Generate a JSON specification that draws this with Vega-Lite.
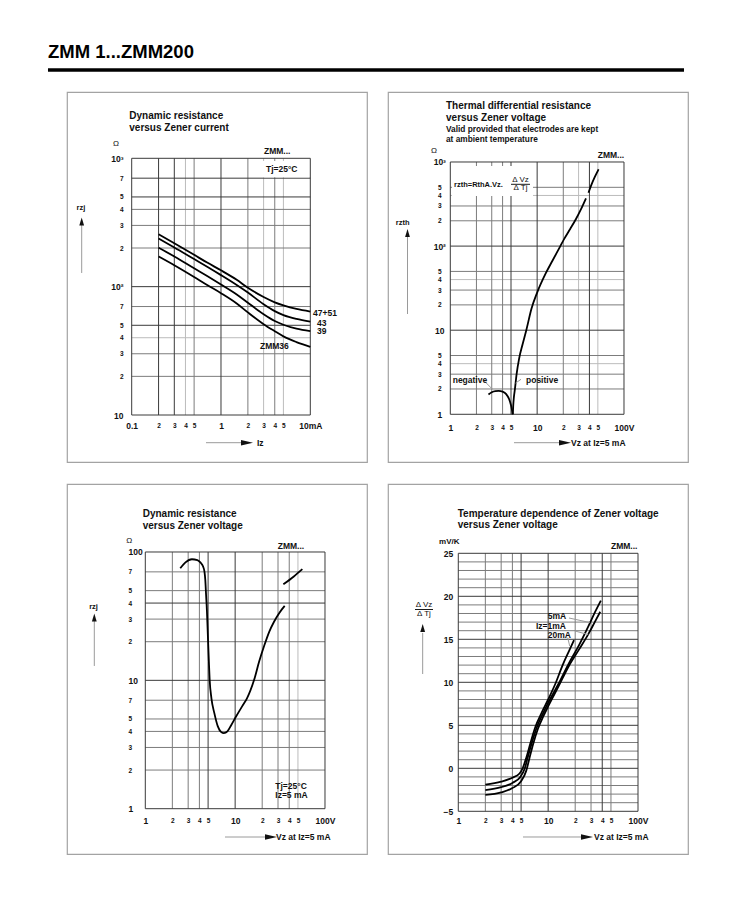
{
  "$schema": "https://vega.github.io/schema/vega-lite/v6.json",
  "background": "white",
  "padding": 0,
  "autosize": {"type": "pad"},
  "config": {
    "font": "Liberation Sans",
    "view": {"stroke": "#a3a3a3", "strokeWidth": 1.2},
    "axis": {"grid": false, "domain": false, "ticks": false, "tickSize": 0, "labelFont": "Liberation Sans", "labelFontWeight": "bold", "labelColor": "#111111", "labelOverlap": false, "labelFlush": false, "labelBound": false, "title": null},
    "text": {"font": "Liberation Sans", "color": "#111111"}
  },
  "columns": 2,
  "spacing": {"row": 22, "column": 21},
  "bounds": "flush",
  "datasets": {
    "page": [{"x": 0.0034393, "x2": 861000, "y": 0.0014421, "y2": 16811}],
    "bar": [{"x": 0.011552, "x2": 153000, "y": 4875, "y2": 4875}],
    "g1": [
      {"x": 0.4, "x2": 0.4, "y": 10, "y2": 1000, "k": "l"},
      {"x": 3, "x2": 3, "y": 10, "y2": 1000, "k": "l"},
      {"x": 5, "x2": 5, "y": 10, "y2": 1000, "k": "l"},
      {"x": 0.1, "x2": 10, "y": 40, "y2": 40, "k": "l"},
      {"x": 0.5, "x2": 0.5, "y": 10, "y2": 1000, "k": "n"},
      {"x": 2, "x2": 2, "y": 10, "y2": 1000, "k": "n"},
      {"x": 4, "x2": 4, "y": 10, "y2": 1000, "k": "n"},
      {"x": 0.1, "x2": 10, "y": 400, "y2": 400, "k": "n"},
      {"x": 0.1, "x2": 10, "y": 300, "y2": 300, "k": "n"},
      {"x": 0.1, "x2": 10, "y": 200, "y2": 200, "k": "n"},
      {"x": 0.1, "x2": 10, "y": 70, "y2": 70, "k": "n"},
      {"x": 0.1, "x2": 10, "y": 30, "y2": 30, "k": "n"},
      {"x": 0.1, "x2": 10, "y": 20, "y2": 20, "k": "n"},
      {"x": 0.1, "x2": 0.1, "y": 10, "y2": 1000, "k": "m"},
      {"x": 0.2, "x2": 0.2, "y": 10, "y2": 1000, "k": "m"},
      {"x": 0.3, "x2": 0.3, "y": 10, "y2": 1000, "k": "m"},
      {"x": 1, "x2": 1, "y": 10, "y2": 1000, "k": "m"},
      {"x": 10, "x2": 10, "y": 10, "y2": 1000, "k": "m"},
      {"x": 0.1, "x2": 10, "y": 1000, "y2": 1000, "k": "m"},
      {"x": 0.1, "x2": 10, "y": 700, "y2": 700, "k": "m"},
      {"x": 0.1, "x2": 10, "y": 500, "y2": 500, "k": "m"},
      {"x": 0.1, "x2": 10, "y": 100, "y2": 100, "k": "m"},
      {"x": 0.1, "x2": 10, "y": 50, "y2": 50, "k": "m"},
      {"x": 0.1, "x2": 10, "y": 10, "y2": 10, "k": "m"}
    ],
    "w1": [{"x": 2.953, "x2": 9.67, "y": 712, "y2": 952.7}],
    "c1": [
      {"s": "a", "x": 0.2, "y": 256}, {"s": "a", "x": 0.3, "y": 218}, {"s": "a", "x": 0.5, "y": 177}, {"s": "a", "x": 0.7, "y": 154}, {"s": "a", "x": 1, "y": 134}, {"s": "a", "x": 1.5, "y": 113}, {"s": "a", "x": 2, "y": 98}, {"s": "a", "x": 3, "y": 83}, {"s": "a", "x": 4, "y": 75.5}, {"s": "a", "x": 5, "y": 71.5}, {"s": "a", "x": 7, "y": 67}, {"s": "a", "x": 10, "y": 64},
      {"s": "b", "x": 0.2, "y": 237}, {"s": "b", "x": 0.3, "y": 202}, {"s": "b", "x": 0.5, "y": 164}, {"s": "b", "x": 0.7, "y": 143}, {"s": "b", "x": 1, "y": 123}, {"s": "b", "x": 1.5, "y": 103}, {"s": "b", "x": 2, "y": 90}, {"s": "b", "x": 3, "y": 73}, {"s": "b", "x": 4, "y": 64.5}, {"s": "b", "x": 5, "y": 60}, {"s": "b", "x": 7, "y": 56}, {"s": "b", "x": 10, "y": 53.4},
      {"s": "c", "x": 0.2, "y": 201}, {"s": "c", "x": 0.3, "y": 172}, {"s": "c", "x": 0.5, "y": 139}, {"s": "c", "x": 0.7, "y": 121}, {"s": "c", "x": 1, "y": 104}, {"s": "c", "x": 1.5, "y": 87}, {"s": "c", "x": 2, "y": 75}, {"s": "c", "x": 3, "y": 61}, {"s": "c", "x": 4, "y": 54}, {"s": "c", "x": 5, "y": 50.5}, {"s": "c", "x": 7, "y": 47}, {"s": "c", "x": 10, "y": 45},
      {"s": "d", "x": 0.2, "y": 172}, {"s": "d", "x": 0.3, "y": 147}, {"s": "d", "x": 0.5, "y": 119}, {"s": "d", "x": 0.7, "y": 103}, {"s": "d", "x": 1, "y": 89}, {"s": "d", "x": 1.5, "y": 74}, {"s": "d", "x": 2, "y": 63}, {"s": "d", "x": 3, "y": 51}, {"s": "d", "x": 4, "y": 45}, {"s": "d", "x": 5, "y": 41}, {"s": "d", "x": 7, "y": 37}, {"s": "d", "x": 10, "y": 34}
    ],
    "d1": [
      {"x": 0.02755, "x2": 0.02755, "y": 302.2, "y2": 127.8, "k": "a"},
      {"x": 0.6793, "x2": 1.6748, "y": 6.084, "y2": 6.084, "k": "a"}
    ],
    "a1": [{"x": 0.02755, "y": 321.8, "dir": "up"}, {"x": 1.955, "y": 6.084, "dir": "right"}],
    "t1": [
      {"x": 0.011552, "y": 6078, "t": "ZMM 1...ZMM200", "r": "P"},
      {"x": 0.094, "y": 2013, "t": "Dynamic resistance", "r": "T"},
      {"x": 0.094, "y": 1623, "t": "versus Zener current", "r": "T"},
      {"x": 0.0667, "y": 1292, "t": "Ω", "r": "C"},
      {"x": 0.02706, "y": 412.2, "t": "rzj", "r": "B"},
      {"x": 3.03, "y": 1080, "t": "ZMM...", "r": "L"},
      {"x": 3.19, "y": 782, "t": "Tj=25°C", "r": "L"},
      {"x": 10.72, "y": 59.5, "t": "47+51", "r": "L"},
      {"x": 11.88, "y": 49.8, "t": "43", "r": "L"},
      {"x": 11.88, "y": 42.8, "t": "39", "r": "L"},
      {"x": 2.733, "y": 32.7, "t": "ZMM36", "r": "L"},
      {"x": 2.53, "y": 6.084, "t": "Iz", "r": "M"}
    ],
    "g2": [
      {"x": 30, "x2": 30, "y": 1, "y2": 1000, "k": "l"},
      {"x": 50, "x2": 50, "y": 1, "y2": 1000, "k": "l"},
      {"x": 1, "x2": 100, "y": 400, "y2": 400, "k": "l"},
      {"x": 1, "x2": 100, "y": 40, "y2": 40, "k": "l"},
      {"x": 1, "x2": 100, "y": 4, "y2": 4, "k": "l"},
      {"x": 2, "x2": 2, "y": 1, "y2": 1000, "k": "n"},
      {"x": 3, "x2": 3, "y": 1, "y2": 1000, "k": "n"},
      {"x": 4, "x2": 4, "y": 1, "y2": 1000, "k": "n"},
      {"x": 20, "x2": 20, "y": 1, "y2": 1000, "k": "n"},
      {"x": 1, "x2": 100, "y": 500, "y2": 500, "k": "n"},
      {"x": 1, "x2": 100, "y": 300, "y2": 300, "k": "n"},
      {"x": 1, "x2": 100, "y": 200, "y2": 200, "k": "n"},
      {"x": 1, "x2": 100, "y": 50, "y2": 50, "k": "n"},
      {"x": 1, "x2": 100, "y": 30, "y2": 30, "k": "n"},
      {"x": 1, "x2": 100, "y": 20, "y2": 20, "k": "n"},
      {"x": 1, "x2": 100, "y": 5, "y2": 5, "k": "n"},
      {"x": 1, "x2": 100, "y": 3, "y2": 3, "k": "n"},
      {"x": 1, "x2": 100, "y": 2, "y2": 2, "k": "n"},
      {"x": 1, "x2": 1, "y": 1, "y2": 1000, "k": "m"},
      {"x": 5, "x2": 5, "y": 1, "y2": 1000, "k": "m"},
      {"x": 10, "x2": 10, "y": 1, "y2": 1000, "k": "m"},
      {"x": 40, "x2": 40, "y": 1, "y2": 1000, "k": "m"},
      {"x": 100, "x2": 100, "y": 1, "y2": 1000, "k": "m"},
      {"x": 1, "x2": 100, "y": 1000, "y2": 1000, "k": "m"},
      {"x": 1, "x2": 100, "y": 100, "y2": 100, "k": "m"},
      {"x": 1, "x2": 100, "y": 10, "y2": 10, "k": "m"},
      {"x": 1, "x2": 100, "y": 1, "y2": 1, "k": "m"}
    ],
    "w2": [{"x": 1.046, "x2": 8.957, "y": 394.2, "y2": 896.6}],
    "c2": [
      {"s": "neg", "x": 2.75, "y": 1.72}, {"s": "neg", "x": 3.0, "y": 1.83}, {"s": "neg", "x": 3.3, "y": 1.89}, {"s": "neg", "x": 3.6, "y": 1.9}, {"s": "neg", "x": 4.0, "y": 1.86}, {"s": "neg", "x": 4.4, "y": 1.74}, {"s": "neg", "x": 4.75, "y": 1.52}, {"s": "neg", "x": 5.0, "y": 1.28}, {"s": "neg", "x": 5.15, "y": 1.1}, {"s": "neg", "x": 5.22, "y": 1.0},
      {"s": "pos", "x": 5.25, "y": 1.0}, {"s": "pos", "x": 5.3, "y": 1.25}, {"s": "pos", "x": 5.4, "y": 1.6}, {"s": "pos", "x": 5.55, "y": 2.0}, {"s": "pos", "x": 5.8, "y": 3.0}, {"s": "pos", "x": 6.2, "y": 4.6}, {"s": "pos", "x": 6.8, "y": 6.8}, {"s": "pos", "x": 7.5, "y": 10}, {"s": "pos", "x": 8.6, "y": 18}, {"s": "pos", "x": 10, "y": 28}, {"s": "pos", "x": 12.5, "y": 47}, {"s": "pos", "x": 15, "y": 67}, {"s": "pos", "x": 18.5, "y": 100}, {"s": "pos", "x": 20.5, "y": 122}, {"s": "pos", "x": 24, "y": 160}, {"s": "pos", "x": 28, "y": 210}, {"s": "pos", "x": 32, "y": 275}, {"s": "pos", "x": 36.5, "y": 370},
      {"s": "pos2", "x": 39, "y": 430}, {"s": "pos2", "x": 42, "y": 530}, {"s": "pos2", "x": 46, "y": 660}, {"s": "pos2", "x": 51, "y": 820}
    ],
    "d2": [
      {"x": 0.3215, "x2": 0.3215, "y": 128.3, "y2": 15.58, "k": "a"},
      {"x": 5.413, "x2": 17.85, "y": 0.4596, "y2": 0.4596, "k": "a"},
      {"x": 5.0, "x2": 8.272, "y": 543, "y2": 543, "k": "b"},
      {"x": 2.463, "x2": 3.05, "y": 2.489, "y2": 1.99, "k": "a"},
      {"x": 6.518, "x2": 5.65, "y": 2.608, "y2": 2.35, "k": "a"}
    ],
    "a2": [{"x": 0.3215, "y": 143.1, "dir": "up"}, {"x": 20.93, "y": 0.4596, "dir": "right"}],
    "t2": [
      {"x": 0.8923, "y": 4267, "t": "Thermal differential resistance", "r": "T"},
      {"x": 0.8923, "y": 3073, "t": "versus Zener voltage", "r": "T"},
      {"x": 0.8923, "y": 2274, "t": "Valid provided that electrodes are kept", "r": "S"},
      {"x": 0.8923, "y": 1706, "t": "at ambient temperature", "r": "S"},
      {"x": 0.6492, "y": 1351, "t": "Ω", "r": "C"},
      {"x": 0.283, "y": 189.8, "t": "rzth", "r": "B"},
      {"x": 49.8, "y": 1116, "t": "ZMM...", "r": "L"},
      {"x": 1.103, "y": 504.3, "t": "rzth=RthA.Vz.", "r": "F"},
      {"x": 6.433, "y": 606, "t": "Δ Vz", "r": "C"},
      {"x": 6.433, "y": 494.9, "t": "Δ Tj", "r": "C"},
      {"x": 1.0657, "y": 2.357, "t": "negative", "r": "L"},
      {"x": 7.441, "y": 2.357, "t": "positive", "r": "L"},
      {"x": 24.53, "y": 0.4596, "t": "Vz at Iz=5 mA", "r": "M"}
    ],
    "g3": [
      {"x": 50, "x2": 50, "y": 1, "y2": 100, "k": "l"},
      {"x": 2, "x2": 2, "y": 1, "y2": 100, "k": "n"},
      {"x": 3, "x2": 3, "y": 1, "y2": 100, "k": "n"},
      {"x": 4, "x2": 4, "y": 1, "y2": 100, "k": "n"},
      {"x": 20, "x2": 20, "y": 1, "y2": 100, "k": "n"},
      {"x": 30, "x2": 30, "y": 1, "y2": 100, "k": "n"},
      {"x": 40, "x2": 40, "y": 1, "y2": 100, "k": "n"},
      {"x": 1, "x2": 100, "y": 70, "y2": 70, "k": "n"},
      {"x": 1, "x2": 100, "y": 50, "y2": 50, "k": "n"},
      {"x": 1, "x2": 100, "y": 30, "y2": 30, "k": "n"},
      {"x": 1, "x2": 100, "y": 20, "y2": 20, "k": "n"},
      {"x": 1, "x2": 100, "y": 7, "y2": 7, "k": "n"},
      {"x": 1, "x2": 100, "y": 5, "y2": 5, "k": "n"},
      {"x": 1, "x2": 100, "y": 4, "y2": 4, "k": "n"},
      {"x": 1, "x2": 100, "y": 3, "y2": 3, "k": "n"},
      {"x": 1, "x2": 100, "y": 2, "y2": 2, "k": "n"},
      {"x": 1, "x2": 1, "y": 1, "y2": 100, "k": "m"},
      {"x": 5, "x2": 5, "y": 1, "y2": 100, "k": "m"},
      {"x": 10, "x2": 10, "y": 1, "y2": 100, "k": "m"},
      {"x": 100, "x2": 100, "y": 1, "y2": 100, "k": "m"},
      {"x": 1, "x2": 100, "y": 100, "y2": 100, "k": "m"},
      {"x": 1, "x2": 100, "y": 40, "y2": 40, "k": "m"},
      {"x": 1, "x2": 100, "y": 10, "y2": 10, "k": "m"},
      {"x": 1, "x2": 100, "y": 1, "y2": 1, "k": "m"}
    ],
    "c3": [
      {"s": "a", "x": 2.45, "y": 74.6}, {"s": "a", "x": 2.8, "y": 83}, {"s": "a", "x": 3.3, "y": 87.8}, {"s": "a", "x": 3.8, "y": 86.5}, {"s": "a", "x": 4.1, "y": 83}, {"s": "a", "x": 4.4, "y": 77}, {"s": "a", "x": 4.56, "y": 70}, {"s": "a", "x": 4.65, "y": 61}, {"s": "a", "x": 4.75, "y": 46}, {"s": "a", "x": 4.85, "y": 35}, {"s": "a", "x": 4.93, "y": 26}, {"s": "a", "x": 5.0, "y": 20}, {"s": "a", "x": 5.1, "y": 14}, {"s": "a", "x": 5.2, "y": 10.2}, {"s": "a", "x": 5.45, "y": 7.2}, {"s": "a", "x": 5.85, "y": 5.6}, {"s": "a", "x": 6.4, "y": 4.4}, {"s": "a", "x": 7.0, "y": 3.95}, {"s": "a", "x": 7.5, "y": 3.88}, {"s": "a", "x": 8.2, "y": 4.0}, {"s": "a", "x": 9.0, "y": 4.45}, {"s": "a", "x": 10.2, "y": 5.2}, {"s": "a", "x": 12, "y": 6.3}, {"s": "a", "x": 13.5, "y": 7.2}, {"s": "a", "x": 16.2, "y": 10}, {"s": "a", "x": 18.5, "y": 14}, {"s": "a", "x": 21, "y": 18.5}, {"s": "a", "x": 24, "y": 24}, {"s": "a", "x": 27, "y": 28.5}, {"s": "a", "x": 31, "y": 33.5}, {"s": "a", "x": 35.6, "y": 38},
      {"s": "b", "x": 34.4, "y": 56}, {"s": "b", "x": 45, "y": 64.5}, {"s": "b", "x": 56, "y": 73.5}
    ],
    "d3": [
      {"x": 0.2707, "x2": 0.2707, "y": 29.0, "y2": 12.94, "k": "a"},
      {"x": 7.709, "x2": 22.05, "y": 0.6018, "y2": 0.6018, "k": "a"}
    ],
    "a3": [{"x": 0.2707, "y": 30.88, "dir": "up"}, {"x": 25.06, "y": 0.6018, "dir": "right"}],
    "t3": [
      {"x": 0.9356, "y": 185.7, "t": "Dynamic resistance", "r": "T"},
      {"x": 0.9356, "y": 152.4, "t": "versus Zener voltage", "r": "T"},
      {"x": 0.6636, "y": 121.8, "t": "Ω", "r": "C"},
      {"x": 0.2652, "y": 37.27, "t": "rzj", "r": "B"},
      {"x": 29.76, "y": 105.5, "t": "ZMM...", "r": "L"},
      {"x": 27.98, "y": 1.4238, "t": "Tj=25°C", "r": "L"},
      {"x": 27.98, "y": 1.2117, "t": "Iz=5 mA", "r": "L"},
      {"x": 28.49, "y": 0.6018, "t": "Vz at Iz=5 mA", "r": "M"}
    ],
    "g4": [
      {"x": 2, "x2": 2, "y": -5, "y2": 25, "k": "n"},
      {"x": 3, "x2": 3, "y": -5, "y2": 25, "k": "n"},
      {"x": 4, "x2": 4, "y": -5, "y2": 25, "k": "n"},
      {"x": 20, "x2": 20, "y": -5, "y2": 25, "k": "n"},
      {"x": 30, "x2": 30, "y": -5, "y2": 25, "k": "n"},
      {"x": 50, "x2": 50, "y": -5, "y2": 25, "k": "n"},
      {"x": 1, "x2": 100, "y": -4, "y2": -4, "k": "n"},
      {"x": 1, "x2": 100, "y": -3, "y2": -3, "k": "n"},
      {"x": 1, "x2": 100, "y": -2, "y2": -2, "k": "n"},
      {"x": 1, "x2": 100, "y": -1, "y2": -1, "k": "n"},
      {"x": 1, "x2": 100, "y": 1, "y2": 1, "k": "n"},
      {"x": 1, "x2": 100, "y": 2, "y2": 2, "k": "n"},
      {"x": 1, "x2": 100, "y": 3, "y2": 3, "k": "n"},
      {"x": 1, "x2": 100, "y": 4, "y2": 4, "k": "n"},
      {"x": 1, "x2": 100, "y": 6, "y2": 6, "k": "n"},
      {"x": 1, "x2": 100, "y": 7, "y2": 7, "k": "n"},
      {"x": 1, "x2": 100, "y": 8, "y2": 8, "k": "n"},
      {"x": 1, "x2": 100, "y": 9, "y2": 9, "k": "n"},
      {"x": 1, "x2": 100, "y": 11, "y2": 11, "k": "n"},
      {"x": 1, "x2": 100, "y": 12, "y2": 12, "k": "n"},
      {"x": 1, "x2": 100, "y": 13, "y2": 13, "k": "n"},
      {"x": 1, "x2": 100, "y": 14, "y2": 14, "k": "n"},
      {"x": 1, "x2": 100, "y": 16, "y2": 16, "k": "n"},
      {"x": 1, "x2": 100, "y": 17, "y2": 17, "k": "n"},
      {"x": 1, "x2": 100, "y": 18, "y2": 18, "k": "n"},
      {"x": 1, "x2": 100, "y": 19, "y2": 19, "k": "n"},
      {"x": 1, "x2": 100, "y": 21, "y2": 21, "k": "n"},
      {"x": 1, "x2": 100, "y": 22, "y2": 22, "k": "n"},
      {"x": 1, "x2": 100, "y": 23, "y2": 23, "k": "n"},
      {"x": 1, "x2": 100, "y": 24, "y2": 24, "k": "n"},
      {"x": 1, "x2": 1, "y": -5, "y2": 25, "k": "m"},
      {"x": 5, "x2": 5, "y": -5, "y2": 25, "k": "m"},
      {"x": 10, "x2": 10, "y": -5, "y2": 25, "k": "m"},
      {"x": 40, "x2": 40, "y": -5, "y2": 25, "k": "m"},
      {"x": 100, "x2": 100, "y": -5, "y2": 25, "k": "m"},
      {"x": 1, "x2": 100, "y": -5, "y2": -5, "k": "m"},
      {"x": 1, "x2": 100, "y": 0, "y2": 0, "k": "m"},
      {"x": 1, "x2": 100, "y": 5, "y2": 5, "k": "m"},
      {"x": 1, "x2": 100, "y": 10, "y2": 10, "k": "m"},
      {"x": 1, "x2": 100, "y": 15, "y2": 15, "k": "m"},
      {"x": 1, "x2": 100, "y": 20, "y2": 20, "k": "m"},
      {"x": 1, "x2": 100, "y": 25, "y2": 25, "k": "m"}
    ],
    "c4": [
      {"s": "20mA", "x": 2, "y": -1.9}, {"s": "20mA", "x": 3, "y": -1.55}, {"s": "20mA", "x": 4, "y": -1.1}, {"s": "20mA", "x": 4.8, "y": -0.6}, {"s": "20mA", "x": 5.2, "y": 0}, {"s": "20mA", "x": 5.7, "y": 1.2}, {"s": "20mA", "x": 6.3, "y": 2.8}, {"s": "20mA", "x": 7.2, "y": 4.8}, {"s": "20mA", "x": 8.5, "y": 6.5}, {"s": "20mA", "x": 10, "y": 8.0}, {"s": "20mA", "x": 12, "y": 9.8}, {"s": "20mA", "x": 14.5, "y": 12.0}, {"s": "20mA", "x": 17, "y": 13.6}, {"s": "20mA", "x": 19.4, "y": 14.9},
      {"s": "5mA", "x": 2, "y": -2.55}, {"s": "5mA", "x": 3, "y": -2.2}, {"s": "5mA", "x": 4, "y": -1.7}, {"s": "5mA", "x": 4.9, "y": -1.0}, {"s": "5mA", "x": 5.5, "y": 0}, {"s": "5mA", "x": 6, "y": 1.5}, {"s": "5mA", "x": 6.6, "y": 3.0}, {"s": "5mA", "x": 7.5, "y": 4.8}, {"s": "5mA", "x": 8.7, "y": 6.3}, {"s": "5mA", "x": 10, "y": 7.6}, {"s": "5mA", "x": 13, "y": 9.8}, {"s": "5mA", "x": 17, "y": 12.2}, {"s": "5mA", "x": 22, "y": 14.3}, {"s": "5mA", "x": 28, "y": 16.5}, {"s": "5mA", "x": 33, "y": 18.1}, {"s": "5mA", "x": 38.6, "y": 19.5},
      {"s": "1mA", "x": 2, "y": -3.1}, {"s": "1mA", "x": 3, "y": -2.8}, {"s": "1mA", "x": 4, "y": -2.3}, {"s": "1mA", "x": 5, "y": -1.5}, {"s": "1mA", "x": 5.7, "y": -0.3}, {"s": "1mA", "x": 6.2, "y": 1.2}, {"s": "1mA", "x": 6.8, "y": 2.8}, {"s": "1mA", "x": 7.7, "y": 4.6}, {"s": "1mA", "x": 8.8, "y": 6.0}, {"s": "1mA", "x": 10, "y": 7.2}, {"s": "1mA", "x": 13, "y": 9.5}, {"s": "1mA", "x": 17, "y": 11.9}, {"s": "1mA", "x": 22, "y": 13.8}, {"s": "1mA", "x": 28, "y": 15.6}, {"s": "1mA", "x": 33, "y": 17.0}, {"s": "1mA", "x": 38, "y": 18.2}
    ],
    "d4": [
      {"x": 0.3297, "x2": 0.5231, "y": 18.465, "y2": 18.465, "k": "b"},
      {"x": 0.4015, "x2": 0.4015, "y": 15.733, "y2": 10.965, "k": "a"},
      {"x": 5.249, "x2": 23.21, "y": -7.988, "y2": -7.988, "k": "a"},
      {"x": 17.06, "x2": 29, "y": 17.477, "y2": 16.95, "k": "a"},
      {"x": 19.9, "x2": 27.98, "y": 15.965, "y2": 15.55, "k": "a"},
      {"x": 16.51, "x2": 17.4, "y": 15.186, "y2": 14.2, "k": "a"}
    ],
    "a4": [{"x": 0.4015, "y": 16.314, "dir": "up"}, {"x": 27.06, "y": -7.988, "dir": "right"}],
    "t4": [
      {"x": 0.9848, "y": 29.163, "t": "Temperature dependence of Zener voltage", "r": "T"},
      {"x": 0.9848, "y": 27.884, "t": "versus Zener voltage", "r": "T"},
      {"x": 0.7943, "y": 26.349, "t": "mV/K", "r": "B"},
      {"x": 50.06, "y": 25.5, "t": "ZMM...", "r": "L"},
      {"x": 0.4151, "y": 18.988, "t": "Δ Vz", "r": "C"},
      {"x": 0.4151, "y": 17.942, "t": "Δ Tj", "r": "C"},
      {"x": 9.885, "y": 17.36, "t": "5mA", "r": "L"},
      {"x": 7.324, "y": 16.198, "t": "Iz=1mA", "r": "L"},
      {"x": 9.885, "y": 15.116, "t": "20mA", "r": "L"},
      {"x": 32.38, "y": -7.988, "t": "Vz at Iz=5 mA", "r": "M"}
    ]
  },
  "concat": [
    {
      "width": 300, "height": 370,
      "encoding": {
        "x": {"field": "x", "type": "quantitative", "scale": {"type": "log", "domain": [0.018862, 43.146], "nice": false},
          "axis": {"orient": "bottom", "offset": -47, "values": [0.1, 0.2, 0.3, 0.4, 0.5, 1, 2, 3, 4, 5, 10], "labelExpr": "datum.value == 10 ? '10mA' : datum.value == 0.1 ? '0.1' : datum.value == 1 ? '1' : datum.value < 1 ? format(datum.value * 10, 'd') : format(datum.value, 'd')", "labelPadding": 10, "labelBaseline": "middle", "labelFontSize": {"condition": {"test": "datum.value == 0.1 || datum.value == 1 || datum.value == 10", "value": 8.5}, "value": 6.5}}},
        "y": {"field": "y", "type": "quantitative", "scale": {"type": "log", "domain": [4.3034, 3285.3], "nice": false},
          "axis": {"orient": "left", "offset": -64.7, "values": [10, 20, 30, 40, 50, 70, 100, 200, 300, 400, 500, 700, 1000], "labelExpr": "datum.value == 1000 ? '10³' : datum.value == 100 ? '10²' : datum.value == 10 ? '10' : datum.value > 100 ? format(datum.value / 100, 'd') : format(datum.value / 10, 'd')", "labelPadding": 8.7, "labelAlign": "right", "labelBaseline": "middle", "labelFontSize": {"condition": {"test": "datum.value == 10 || datum.value == 100 || datum.value == 1000", "value": 8.5}, "value": 6.5}}}
      },
      "layer": [
        {"data": {"name": "page"}, "mark": {"type": "rect", "fill": "transparent"}, "encoding": {"x2": {"field": "x2"}, "y2": {"field": "y2"}}},
        {"data": {"name": "g1"}, "mark": {"type": "rule", "strokeWidth": 1}, "encoding": {"x2": {"field": "x2"}, "y2": {"field": "y2"}, "color": {"field": "k", "type": "nominal", "scale": {"domain": ["m", "n", "l", "a", "b"], "range": ["#3a3a3a", "#7c7c7c", "#bcbcbc", "#9a9a9a", "#1a1a1a"]}, "legend": null}}},
        {"data": {"name": "w1"}, "mark": {"type": "rect", "fill": "white"}, "encoding": {"x2": {"field": "x2"}, "y2": {"field": "y2"}}},
        {"data": {"name": "c1"}, "mark": {"type": "line", "color": "#000000", "strokeWidth": 1.8, "interpolate": "monotone"}, "encoding": {"detail": {"field": "s", "type": "nominal"}}},
        {"data": {"name": "d1"}, "mark": {"type": "rule", "strokeWidth": 1}, "encoding": {"x2": {"field": "x2"}, "y2": {"field": "y2"}, "color": {"field": "k", "type": "nominal", "scale": {"domain": ["m", "n", "l", "a", "b"], "range": ["#3a3a3a", "#7c7c7c", "#bcbcbc", "#9a9a9a", "#1a1a1a"]}, "legend": null}}},
        {"data": {"name": "bar"}, "mark": {"type": "rule", "strokeWidth": 3.4, "color": "#000000"}, "encoding": {"x2": {"field": "x2"}, "y2": {"field": "y2"}}},
        {"data": {"name": "a1"}, "transform": [{"filter": "datum.dir == 'up'"}], "mark": {"type": "point", "shape": "M-0.6,1L0,-1L0.6,1Z", "size": 64, "filled": true, "color": "#111111", "opacity": 1}},
        {"data": {"name": "a1"}, "transform": [{"filter": "datum.dir == 'right'"}], "mark": {"type": "point", "shape": "M-1,-0.45L1,0L-1,0.45Z", "size": 144, "filled": true, "color": "#111111", "opacity": 1}},
        {"data": {"name": "t1"}, "transform": [{"filter": "datum.r == 'P'"}], "mark": {"type": "text", "align": "left", "baseline": "alphabetic", "fontSize": 18.5, "fontWeight": "bold", "color": "#000000"}, "encoding": {"text": {"field": "t", "type": "nominal"}}},
        {"data": {"name": "t1"}, "transform": [{"filter": "datum.r == 'T'"}], "mark": {"type": "text", "align": "left", "baseline": "alphabetic", "fontSize": 10, "fontWeight": "bold"}, "encoding": {"text": {"field": "t", "type": "nominal"}}},
        {"data": {"name": "t1"}, "transform": [{"filter": "datum.r == 'L'"}], "mark": {"type": "text", "align": "left", "baseline": "alphabetic", "fontSize": 8.5, "fontWeight": "bold"}, "encoding": {"text": {"field": "t", "type": "nominal"}}},
        {"data": {"name": "t1"}, "transform": [{"filter": "datum.r == 'C'"}], "mark": {"type": "text", "align": "center", "baseline": "middle", "fontSize": 8}, "encoding": {"text": {"field": "t", "type": "nominal"}}},
        {"data": {"name": "t1"}, "transform": [{"filter": "datum.r == 'B'"}], "mark": {"type": "text", "align": "center", "baseline": "middle", "fontSize": 7.5, "fontWeight": "bold"}, "encoding": {"text": {"field": "t", "type": "nominal"}}},
        {"data": {"name": "t1"}, "transform": [{"filter": "datum.r == 'M'"}], "mark": {"type": "text", "align": "left", "baseline": "middle", "fontSize": 8.5, "fontWeight": "bold"}, "encoding": {"text": {"field": "t", "type": "nominal"}}}
      ]
    },
    {
      "width": 300, "height": 370,
      "encoding": {
        "x": {"field": "x", "type": "quantitative", "scale": {"type": "log", "domain": [0.1917, 545.8], "nice": false},
          "axis": {"orient": "bottom", "offset": -47.7, "values": [1, 2, 3, 4, 5, 10, 20, 30, 40, 50, 100], "labelExpr": "datum.value == 100 ? '100V' : datum.value == 10 ? '10' : datum.value == 1 ? '1' : datum.value > 10 ? format(datum.value / 10, 'd') : format(datum.value, 'd')", "labelPadding": 13, "labelBaseline": "middle", "labelFontSize": {"condition": {"test": "datum.value == 1 || datum.value == 10 || datum.value == 100", "value": 8.5}, "value": 6.5}}},
        "y": {"field": "y", "type": "quantitative", "scale": {"type": "log", "domain": [0.27087, 6797.5], "nice": false},
          "axis": {"orient": "left", "offset": -62.3, "values": [1, 2, 3, 4, 5, 10, 20, 30, 40, 50, 100, 200, 300, 400, 500, 1000], "labelExpr": "datum.value == 1000 ? '10³' : datum.value == 100 ? '10²' : datum.value == 10 ? '10' : datum.value == 1 ? '1' : datum.value > 100 ? format(datum.value / 100, 'd') : datum.value > 10 ? format(datum.value / 10, 'd') : format(datum.value, 'd')", "labelPadding": 11, "labelAlign": "center", "labelBaseline": "middle", "labelFontSize": {"condition": {"test": "datum.value == 1 || datum.value == 10 || datum.value == 100 || datum.value == 1000", "value": 8.5}, "value": 6.5}}}
      },
      "layer": [
        {"data": {"name": "g2"}, "mark": {"type": "rule", "strokeWidth": 1}, "encoding": {"x2": {"field": "x2"}, "y2": {"field": "y2"}, "color": {"field": "k", "type": "nominal", "scale": {"domain": ["m", "n", "l", "a", "b"], "range": ["#3a3a3a", "#7c7c7c", "#bcbcbc", "#9a9a9a", "#1a1a1a"]}, "legend": null}}},
        {"data": {"name": "w2"}, "mark": {"type": "rect", "fill": "white"}, "encoding": {"x2": {"field": "x2"}, "y2": {"field": "y2"}}},
        {"data": {"name": "c2"}, "mark": {"type": "line", "color": "#000000", "strokeWidth": 1.8, "interpolate": "monotone"}, "encoding": {"detail": {"field": "s", "type": "nominal"}}},
        {"data": {"name": "d2"}, "mark": {"type": "rule", "strokeWidth": 1}, "encoding": {"x2": {"field": "x2"}, "y2": {"field": "y2"}, "color": {"field": "k", "type": "nominal", "scale": {"domain": ["m", "n", "l", "a", "b"], "range": ["#3a3a3a", "#7c7c7c", "#bcbcbc", "#9a9a9a", "#1a1a1a"]}, "legend": null}}},
        {"data": {"name": "a2"}, "transform": [{"filter": "datum.dir == 'up'"}], "mark": {"type": "point", "shape": "M-0.6,1L0,-1L0.6,1Z", "size": 64, "filled": true, "color": "#111111", "opacity": 1}},
        {"data": {"name": "a2"}, "transform": [{"filter": "datum.dir == 'right'"}], "mark": {"type": "point", "shape": "M-1,-0.45L1,0L-1,0.45Z", "size": 144, "filled": true, "color": "#111111", "opacity": 1}},
        {"data": {"name": "t2"}, "transform": [{"filter": "datum.r == 'T'"}], "mark": {"type": "text", "align": "left", "baseline": "alphabetic", "fontSize": 10, "fontWeight": "bold"}, "encoding": {"text": {"field": "t", "type": "nominal"}}},
        {"data": {"name": "t2"}, "transform": [{"filter": "datum.r == 'S'"}], "mark": {"type": "text", "align": "left", "baseline": "alphabetic", "fontSize": 8.3, "fontWeight": "bold"}, "encoding": {"text": {"field": "t", "type": "nominal"}}},
        {"data": {"name": "t2"}, "transform": [{"filter": "datum.r == 'L'"}], "mark": {"type": "text", "align": "left", "baseline": "alphabetic", "fontSize": 8.5, "fontWeight": "bold"}, "encoding": {"text": {"field": "t", "type": "nominal"}}},
        {"data": {"name": "t2"}, "transform": [{"filter": "datum.r == 'F'"}], "mark": {"type": "text", "align": "left", "baseline": "alphabetic", "fontSize": 7.5, "fontWeight": "bold"}, "encoding": {"text": {"field": "t", "type": "nominal"}}},
        {"data": {"name": "t2"}, "transform": [{"filter": "datum.r == 'C'"}], "mark": {"type": "text", "align": "center", "baseline": "middle", "fontSize": 8}, "encoding": {"text": {"field": "t", "type": "nominal"}}},
        {"data": {"name": "t2"}, "transform": [{"filter": "datum.r == 'B'"}], "mark": {"type": "text", "align": "center", "baseline": "middle", "fontSize": 7.5, "fontWeight": "bold"}, "encoding": {"text": {"field": "t", "type": "nominal"}}},
        {"data": {"name": "t2"}, "transform": [{"filter": "datum.r == 'M'"}], "mark": {"type": "text", "align": "left", "baseline": "middle", "fontSize": 8.5, "fontWeight": "bold"}, "encoding": {"text": {"field": "t", "type": "nominal"}}}
      ]
    },
    {
      "width": 300, "height": 370,
      "encoding": {
        "x": {"field": "x", "type": "quantitative", "scale": {"type": "log", "domain": [0.13444, 293.46], "nice": false},
          "axis": {"orient": "bottom", "offset": -45.3, "values": [1, 2, 3, 4, 5, 10, 20, 30, 40, 50, 100], "labelExpr": "datum.value == 100 ? '100V' : datum.value == 10 ? '10' : datum.value == 1 ? '1' : datum.value > 10 ? format(datum.value / 10, 'd') : format(datum.value, 'd')", "labelPadding": 12, "labelBaseline": "middle", "labelFontSize": {"condition": {"test": "datum.value == 1 || datum.value == 10 || datum.value == 100", "value": 8.5}, "value": 6.5}}},
        "y": {"field": "y", "type": "quantitative", "scale": {"type": "log", "domain": [0.44366, 338.6], "nice": false},
          "axis": {"orient": "left", "offset": -78.3, "values": [1, 2, 3, 4, 5, 7, 10, 20, 30, 40, 50, 70, 100], "labelExpr": "datum.value == 100 ? '100' : datum.value == 10 ? '10' : datum.value == 1 ? '1' : datum.value > 10 ? format(datum.value / 10, 'd') : format(datum.value, 'd')", "labelPadding": 17.3, "labelAlign": "left", "labelBaseline": "middle", "labelFontSize": {"condition": {"test": "datum.value == 1 || datum.value == 10 || datum.value == 100", "value": 8.5}, "value": 6.5}}}
      },
      "layer": [
        {"data": {"name": "g3"}, "mark": {"type": "rule", "strokeWidth": 1}, "encoding": {"x2": {"field": "x2"}, "y2": {"field": "y2"}, "color": {"field": "k", "type": "nominal", "scale": {"domain": ["m", "n", "l", "a", "b"], "range": ["#3a3a3a", "#7c7c7c", "#bcbcbc", "#9a9a9a", "#1a1a1a"]}, "legend": null}}},
        {"data": {"name": "c3"}, "mark": {"type": "line", "color": "#000000", "strokeWidth": 1.8, "interpolate": "monotone"}, "encoding": {"detail": {"field": "s", "type": "nominal"}}},
        {"data": {"name": "d3"}, "mark": {"type": "rule", "strokeWidth": 1}, "encoding": {"x2": {"field": "x2"}, "y2": {"field": "y2"}, "color": {"field": "k", "type": "nominal", "scale": {"domain": ["m", "n", "l", "a", "b"], "range": ["#3a3a3a", "#7c7c7c", "#bcbcbc", "#9a9a9a", "#1a1a1a"]}, "legend": null}}},
        {"data": {"name": "a3"}, "transform": [{"filter": "datum.dir == 'up'"}], "mark": {"type": "point", "shape": "M-0.6,1L0,-1L0.6,1Z", "size": 64, "filled": true, "color": "#111111", "opacity": 1}},
        {"data": {"name": "a3"}, "transform": [{"filter": "datum.dir == 'right'"}], "mark": {"type": "point", "shape": "M-1,-0.45L1,0L-1,0.45Z", "size": 144, "filled": true, "color": "#111111", "opacity": 1}},
        {"data": {"name": "t3"}, "transform": [{"filter": "datum.r == 'T'"}], "mark": {"type": "text", "align": "left", "baseline": "alphabetic", "fontSize": 10, "fontWeight": "bold"}, "encoding": {"text": {"field": "t", "type": "nominal"}}},
        {"data": {"name": "t3"}, "transform": [{"filter": "datum.r == 'L'"}], "mark": {"type": "text", "align": "left", "baseline": "alphabetic", "fontSize": 8.5, "fontWeight": "bold"}, "encoding": {"text": {"field": "t", "type": "nominal"}}},
        {"data": {"name": "t3"}, "transform": [{"filter": "datum.r == 'C'"}], "mark": {"type": "text", "align": "center", "baseline": "middle", "fontSize": 8}, "encoding": {"text": {"field": "t", "type": "nominal"}}},
        {"data": {"name": "t3"}, "transform": [{"filter": "datum.r == 'B'"}], "mark": {"type": "text", "align": "center", "baseline": "middle", "fontSize": 7.5, "fontWeight": "bold"}, "encoding": {"text": {"field": "t", "type": "nominal"}}},
        {"data": {"name": "t3"}, "transform": [{"filter": "datum.r == 'M'"}], "mark": {"type": "text", "align": "left", "baseline": "middle", "fontSize": 8.5, "fontWeight": "bold"}, "encoding": {"text": {"field": "t", "type": "nominal"}}}
      ]
    },
    {
      "width": 300, "height": 370,
      "encoding": {
        "x": {"field": "x", "type": "quantitative", "scale": {"type": "log", "domain": [0.16507, 360.1], "nice": false},
          "axis": {"orient": "bottom", "offset": -42.7, "values": [1, 2, 3, 4, 5, 10, 20, 30, 40, 50, 100], "labelExpr": "datum.value == 100 ? '100V' : datum.value == 10 ? '10' : datum.value == 1 ? '1' : datum.value > 10 ? format(datum.value / 10, 'd') : format(datum.value, 'd')", "labelPadding": 9, "labelBaseline": "middle", "labelFontSize": {"condition": {"test": "datum.value == 1 || datum.value == 10 || datum.value == 100", "value": 8.5}, "value": 6.5}}},
        "y": {"field": "y", "type": "quantitative", "scale": {"type": "linear", "domain": [-9.965, 33.058], "nice": false, "zero": false},
          "axis": {"orient": "left", "offset": -70.3, "values": [-5, 0, 5, 10, 15, 20, 25], "labelPadding": 5.5, "labelAlign": "right", "labelBaseline": "middle", "labelFontSize": 8.5}}
      },
      "layer": [
        {"data": {"name": "g4"}, "mark": {"type": "rule", "strokeWidth": 1}, "encoding": {"x2": {"field": "x2"}, "y2": {"field": "y2"}, "color": {"field": "k", "type": "nominal", "scale": {"domain": ["m", "n", "l", "a", "b"], "range": ["#3a3a3a", "#7c7c7c", "#bcbcbc", "#9a9a9a", "#1a1a1a"]}, "legend": null}}},
        {"data": {"name": "c4"}, "mark": {"type": "line", "color": "#000000", "strokeWidth": 1.8, "interpolate": "monotone"}, "encoding": {"detail": {"field": "s", "type": "nominal"}}},
        {"data": {"name": "d4"}, "mark": {"type": "rule", "strokeWidth": 1}, "encoding": {"x2": {"field": "x2"}, "y2": {"field": "y2"}, "color": {"field": "k", "type": "nominal", "scale": {"domain": ["m", "n", "l", "a", "b"], "range": ["#3a3a3a", "#7c7c7c", "#bcbcbc", "#9a9a9a", "#1a1a1a"]}, "legend": null}}},
        {"data": {"name": "a4"}, "transform": [{"filter": "datum.dir == 'up'"}], "mark": {"type": "point", "shape": "M-0.6,1L0,-1L0.6,1Z", "size": 64, "filled": true, "color": "#111111", "opacity": 1}},
        {"data": {"name": "a4"}, "transform": [{"filter": "datum.dir == 'right'"}], "mark": {"type": "point", "shape": "M-1,-0.45L1,0L-1,0.45Z", "size": 144, "filled": true, "color": "#111111", "opacity": 1}},
        {"data": {"name": "t4"}, "transform": [{"filter": "datum.r == 'T'"}], "mark": {"type": "text", "align": "left", "baseline": "alphabetic", "fontSize": 10, "fontWeight": "bold"}, "encoding": {"text": {"field": "t", "type": "nominal"}}},
        {"data": {"name": "t4"}, "transform": [{"filter": "datum.r == 'L'"}], "mark": {"type": "text", "align": "left", "baseline": "alphabetic", "fontSize": 8.5, "fontWeight": "bold"}, "encoding": {"text": {"field": "t", "type": "nominal"}}},
        {"data": {"name": "t4"}, "transform": [{"filter": "datum.r == 'C'"}], "mark": {"type": "text", "align": "center", "baseline": "middle", "fontSize": 8}, "encoding": {"text": {"field": "t", "type": "nominal"}}},
        {"data": {"name": "t4"}, "transform": [{"filter": "datum.r == 'B'"}], "mark": {"type": "text", "align": "center", "baseline": "middle", "fontSize": 8, "fontWeight": "bold"}, "encoding": {"text": {"field": "t", "type": "nominal"}}},
        {"data": {"name": "t4"}, "transform": [{"filter": "datum.r == 'M'"}], "mark": {"type": "text", "align": "left", "baseline": "middle", "fontSize": 8.5, "fontWeight": "bold"}, "encoding": {"text": {"field": "t", "type": "nominal"}}}
      ]
    }
  ]
}
